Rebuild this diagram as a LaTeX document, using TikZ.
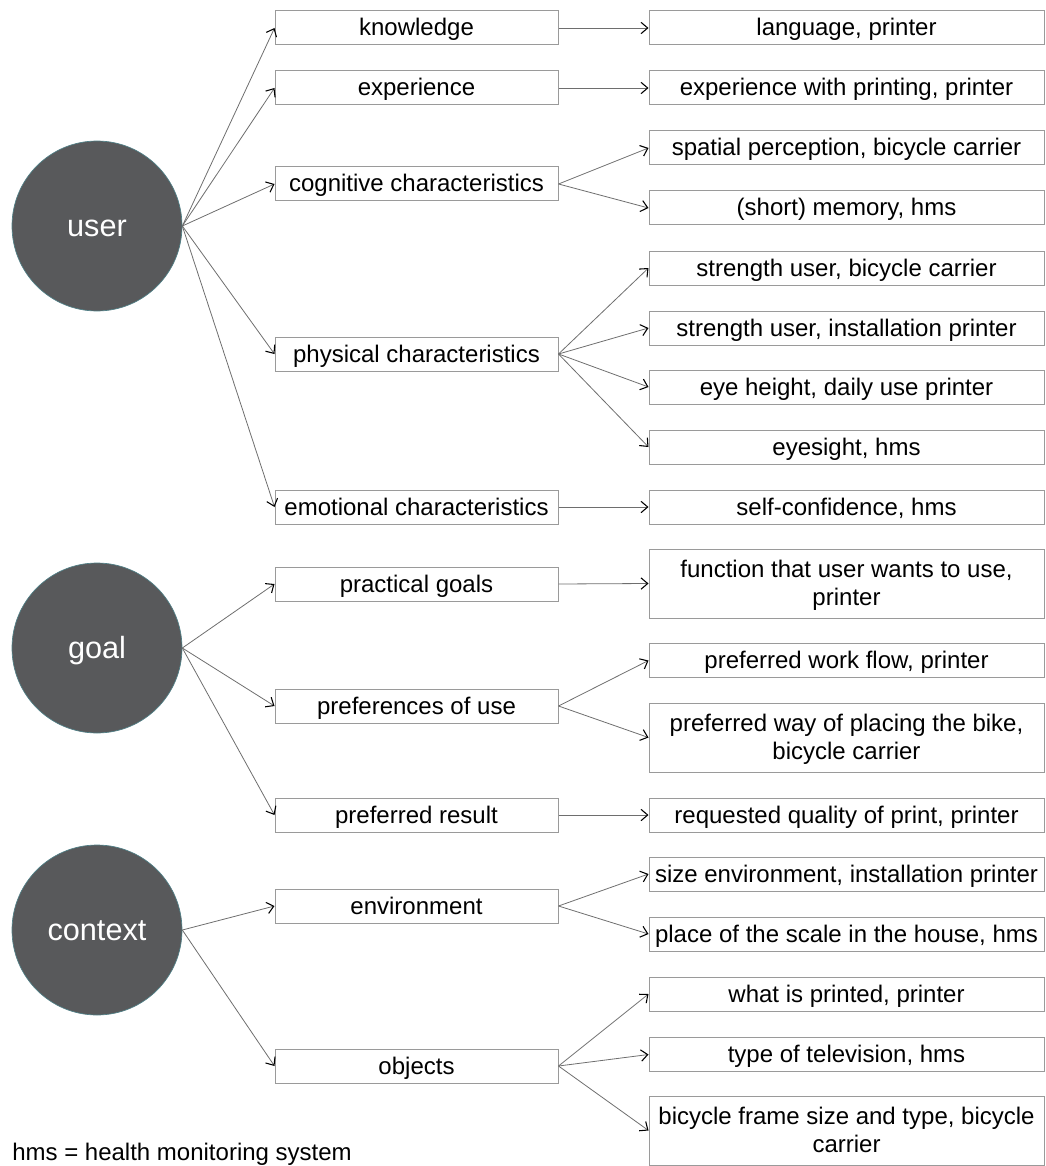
\documentclass[tikz,border=0pt]{standalone}
\usepackage{fontspec}
\setmainfont{Liberation Sans}
\usetikzlibrary{arrows.meta}
\definecolor{circfill}{HTML}{58595B}
\definecolor{circedge}{HTML}{4F7F86}
\definecolor{boxedge}{HTML}{9A9A9A}
\definecolor{lineclr}{HTML}{6E6E6E}
\newcommand{\topstrut}{\rule{0pt}{16pt}}
\newcommand{\botstrut}{\rule[-4pt]{0pt}{4pt}}
\tikzset{
  bigcirc/.style={circle, fill=circfill, draw=circedge, line width=0.5pt, minimum size=127.5pt, inner sep=0pt, text=white, text height=16pt, text depth=0pt, font=\fontsize{23}{27}\selectfont},
  midbox/.style={draw=boxedge, line width=0.75pt, minimum width=212.25pt, minimum height=25.5pt, inner sep=0pt, text height=14pt, text depth=2pt, align=center, font=\fontsize{18}{21}\selectfont},
  rbox/.style={draw=boxedge, line width=0.75pt, minimum width=296.25pt, minimum height=25.5pt, inner sep=0pt, text height=14pt, text depth=2pt, align=center, font=\fontsize{18}{21}\selectfont},
  tallbox/.style={rbox, minimum height=51.75pt, text height={}, text depth={}},
  conn/.style={draw=lineclr, line width=0.6pt, -{Straight Barb[black,length=5pt,width=8.5pt,line width=0.8pt]}}
}
\begin{document}
\begin{tikzpicture}[x=0.75pt,y=-0.75pt]
\useasboundingbox (0,0) rectangle (1045,1166);
% circles
\node[bigcirc] (user) at (97,226) {user};
\node[bigcirc] (goal) at (97,648) {goal};
\node[bigcirc] (context) at (97,930) {context};
% middle column
\node[midbox] (know) at (416.5,28) {knowledge};
\node[midbox] (exp) at (416.5,88) {experience};
\node[midbox] (cog) at (416.5,184) {cognitive characteristics};
\node[midbox] (phys) at (416.5,354) {physical characteristics};
\node[midbox] (emo) at (416.5,507) {emotional characteristics};
\node[midbox] (prac) at (416.5,584) {practical goals};
\node[midbox] (pref) at (416.5,706) {preferences of use};
\node[midbox] (res) at (416.5,815) {preferred result};
\node[midbox] (env) at (416.5,906) {environment};
\node[midbox] (obj) at (416.5,1066) {objects};
% right column
\node[rbox] (lang) at (846.5,28) {language, printer};
\node[rbox] (expp) at (846.5,88) {experience with printing, printer};
\node[rbox] (spat) at (846.5,148) {spatial perception, bicycle carrier};
\node[rbox] (mem) at (846.5,208) {(short) memory, hms};
\node[rbox] (str1) at (846.5,268) {strength user, bicycle carrier};
\node[rbox] (str2) at (846.5,328) {strength user, installation printer};
\node[rbox] (eyeh) at (846.5,387) {eye height, daily use printer};
\node[rbox] (eyes) at (846.5,447) {eyesight, hms};
\node[rbox] (self) at (846.5,507) {self-confidence, hms};
\node[tallbox] (func) at (846.5,583.5) {\topstrut function that user wants to use,\\printer\botstrut};
\node[rbox] (flow) at (846.5,660.5) {preferred work flow, printer};
\node[tallbox] (way) at (846.5,737.5) {\topstrut preferred way of placing the bike,\\bicycle carrier\botstrut};
\node[rbox] (qual) at (846.5,815) {requested quality of print, printer};
\node[rbox] (size) at (846.5,874) {size environment, installation printer};
\node[rbox] (place) at (846.5,934) {place of the scale in the house, hms};
\node[rbox] (what) at (846.5,994) {what is printed, printer};
\node[rbox] (tv) at (846.5,1054.5) {type of television, hms};
\node[tallbox] (frame) at (846.5,1130.5) {\topstrut bicycle frame size and type, bicycle\\carrier\botstrut};
% footnote
\node[anchor=base west, inner sep=0pt, font=\fontsize{18}{21}\selectfont] (note) at (12,1160) {hms = health monitoring system};
% connectors
\foreach \t in {know,exp,cog,phys,emo} \draw[conn] (user.east) -- (\t.west);
\foreach \t in {prac,pref,res} \draw[conn] (goal.east) -- (\t.west);
\foreach \t in {env,obj} \draw[conn] (context.east) -- (\t.west);
\draw[conn] (know.east) -- (lang.west);
\draw[conn] (exp.east) -- (expp.west);
\draw[conn] (cog.east) -- (spat.west);
\draw[conn] (cog.east) -- (mem.west);
\foreach \t in {str1,str2,eyeh,eyes} \draw[conn] (phys.east) -- (\t.west);
\draw[conn] (emo.east) -- (self.west);
\draw[conn] (prac.east) -- (func.west);
\draw[conn] (pref.east) -- (flow.west);
\draw[conn] (pref.east) -- (way.west);
\draw[conn] (res.east) -- (qual.west);
\draw[conn] (env.east) -- (size.west);
\draw[conn] (env.east) -- (place.west);
\foreach \t in {what,tv,frame} \draw[conn] (obj.east) -- (\t.west);
\end{tikzpicture}
\end{document}
